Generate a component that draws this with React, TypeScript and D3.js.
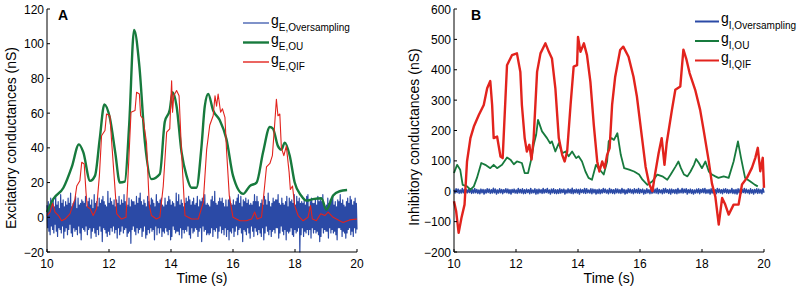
import React from "react";
import * as d3 from "d3";

const W = 799;
const H = 291;
const FONT = "'Liberation Sans', Arial, sans-serif";

const BLUE = "#2b4aa6";
const GREEN = "#177a3d";
const RED = "#e2231d";

// ---------- Panel A (excitatory) ----------
const tEOU = [10,10.2,10.53,10.8,11.03,11.17,11.39,11.55,11.7,11.85,12.03,12.2,12.35,12.51,12.65,12.81,12.98,13.16,13.37,13.64,13.8,13.96,14.05,14.18,14.34,14.5,14.66,14.82,14.98,15.09,15.2,15.36,15.57,15.79,16.0,16.33,16.54,16.76,16.97,17.19,17.29,17.45,17.56,17.67,17.83,17.99,18.2,18.37,18.58,18.85,19.01,19.23,19.44,19.68];
const gEOU = [3,10.5,17,29,42,37.5,21,24,45,65,57,37.5,20,20.5,53,108,87,43,22,25,55,62,72,64,37.5,24,17,17,40,64,71,61.5,56,45,24,13.5,18,20,37.5,52,51,41,39,43,35.5,20,12.5,9.6,10.5,11,4.4,12.5,15,15.7];

const tEQIF = [10,10.1,10.18,10.26,10.37,10.47,10.58,10.74,10.9,10.96,11.06,11.12,11.2,11.26,11.3,11.39,11.49,11.6,11.69,11.76,11.87,11.92,12.03,12.08,12.16,12.25,12.4,12.55,12.64,12.71,12.84,12.89,12.98,13.02,13.1,13.21,13.3,13.37,13.53,13.64,13.75,13.86,13.96,14.02,14.05,14.09,14.18,14.26,14.34,14.45,14.66,14.88,15.04,15.15,15.25,15.36,15.42,15.47,15.52,15.6,15.66,15.74,15.79,15.88,16.0,16.22,16.43,16.6,16.7,16.78,16.92,17.02,17.08,17.19,17.27,17.35,17.4,17.45,17.51,17.56,17.64,17.72,17.81,17.85,17.92,17.99,18.1,18.26,18.42,18.5,18.56,18.69,18.83,18.96,19.07,19.23,19.44,19.55,19.76,20];
const gEQIF = [1,3,8,3,1,-2,-1,2,10.5,18,21,31.7,30.7,14,6,5,1,5,24,47,50,59.5,58.5,45,25,2,-1,0,33.6,60.5,61.5,72,71,58.5,56.6,43,6.7,1,-1,0,18,49,51,78.7,60.5,70,73,70,37.5,1,-1,-1,8.6,39,53,58.5,70,64,71,60.5,62.5,57.6,39,12.5,0,-2,-2,-1,3,-1,0,18,29,31,35.5,55,68,58.5,59.5,40,35.5,41,26,16,18,6.7,1,-2,0,6.7,-1,-2,2,1,3,0,-2,-3,-1.5,-1];

// evenly sampled from 10 s to 20 s
const gEOver = [
  7,-6,9,-8,5,-10,11,-5,8,-7,
  10,-9,6,-4,12,-8,7,-11,9,-6,
  5,-7,13,-9,8,-5,10,-12,6,-8,
  9,-6,7,-10,11,-7,8,-4,14,-9,
  6,-11,8,-6,9,-8,12,-7,5,-10,
  11,-5,7,-9,8,-13,10,-6,9,-7,
  8,-8,12,-5,6,-10,9,-7,11,-6,
  7,-12,10,-8,5,-6,13,-9,8,-11,
  9,-7,6,-10,11,-5,8,-8,10,-14,
  12,-6,9,-7,7,-9,6,-11,15,-8,
  8,-10,11,-6,9,-8,7,-5,10,-9,
  6,-7,10,-12,8,-6,12,-10,7,-8,
  10,-5,8,-9,13,-7,9,-6,6,-11,
  7,-9,11,-8,6,-15,10,-7,9,-5,
  9,-8,7,-10,12,-6,8,-9,11,-7,
  14,-6,9,-11,7,-8,10,-5,8,-12,
  6,-10,12,-7,9,-9,7,-6,11,-8,
  10,-7,8,-13,6,-5,13,-10,9,-6,
  8,-9,10,-6,11,-11,7,-8,6,-9,
  11,-6,7,-8,9,-10,12,-7,10,-13,
  7,-11,9,-5,8,-7,6,-9,14,-8,
  9,-8,13,-10,7,-6,10,-12,8,-7,
  6,-9,8,-7,11,-8,9,-5,12,-10,
  10,-12,7,-6,9,-9,11,-8,7,-6,
  8,-7,12,-11,6,-8,10,-6,9,-14,
  11,-5,9,-8,13,-7,7,-10,8,-9,
  7,-10,6,-9,10,-6,12,-11,9,-7,
  15,-8,8,-6,7,-12,9,-8,11,-5,
  9,-9,11,-7,8,-10,6,-6,10,-11,
  6,-7,10,-13,12,-8,8,-9,7,-6,
  10,-11,7,-8,9,-5,11,-10,13,-7,
  8,-6,12,-9,6,-14,10,-7,9,-8,
  11,-10,8,-6,10,-9,7,-12,8,-5,
  7,-8,9,-11,13,-6,9,-8,12,-10,
  9,-7,6,-9,8,-11,10,-6,7,-13,
  12,-9,10,-5,7,-8,14,-10,9,-7,
  6,-11,8,-8,11,-7,9,-9,10,-6,
  10,-6,13,-12,8,-9,7,-5,11,-8,
  8,-10,7,-7,9,-13,12,-8,6,-9,
  11,-8,9,-6,10,-10,8,-11,13,-7,
  7,-9,12,-8,9,-6,11,-20,8,-10,
  9,-6,8,-11,10,-8,7,-9,12,-7,
  13,-10,6,-7,9,-12,11,-6,8,-9,
  8,-7,10,-9,7,-8,12,-10,9,-14,
  10,-11,9,-6,13,-9,8,-7,6,-8,
  7,-8,11,-12,8,-6,10,-9,11,-7,
  12,-9,7,-8,9,-10,6,-13,10,-6,
  9,-6,13,-7,8,-11,10,-8,7,-9,
  6,-12,9,-9,11,-7,8,-6,12,-10,
  10,-8,7,-11,9,-6,11,-9,8,-7
];

// ---------- Panel B (inhibitory) ----------
const tIOU = [10,10.1,10.2,10.28,10.42,10.53,10.64,10.74,10.88,11.01,11.17,11.28,11.39,11.55,11.71,11.82,11.93,12.03,12.19,12.28,12.39,12.5,12.57,12.65,12.71,12.84,13.0,13.1,13.16,13.27,13.38,13.49,13.6,13.7,13.81,13.94,14.02,14.13,14.24,14.34,14.45,14.58,14.66,14.75,14.83,14.94,14.99,15.08,15.16,15.27,15.38,15.49,15.65,15.81,15.97,16.08,16.24,16.4,16.56,16.72,16.88,16.99,17.15,17.24,17.32,17.42,17.53,17.63,17.74,17.81,17.9,18.0,18.11,18.22,18.32,18.43,18.53,18.7,18.86,19.02,19.16,19.26,19.39,19.55,19.71,19.8];
const gIOU = [60,87,71,21,16,5,16,44,93,87,76,87,76,87,111,104,89,98,93,60,60,109,153,186,235,197,175,158,164,131,158,125,131,115,131,109,115,98,65,44,38,87,76,65,55,98,164,175,169,191,120,76,71,65,55,38,21,33,55,49,38,55,82,98,76,55,49,65,87,106,93,76,98,65,55,49,44,49,44,98,164,109,44,33,21,16];

const tIQIF = [10,10.07,10.15,10.24,10.34,10.42,10.53,10.64,10.8,10.96,11.07,11.17,11.23,11.28,11.39,11.5,11.57,11.66,11.71,11.87,12.03,12.14,12.19,12.28,12.35,12.43,12.5,12.57,12.68,12.79,12.95,13.06,13.16,13.27,13.38,13.49,13.57,13.65,13.76,13.86,13.97,14.0,14.08,14.19,14.29,14.4,14.51,14.62,14.69,14.78,14.86,14.94,15.02,15.1,15.2,15.36,15.46,15.63,15.79,15.9,16.06,16.18,16.29,16.4,16.49,16.6,16.7,16.79,16.86,17.03,17.14,17.3,17.4,17.5,17.6,17.78,17.94,18.05,18.21,18.32,18.43,18.54,18.65,18.75,18.86,19.02,19.18,19.29,19.45,19.61,19.72,19.8,19.88,19.96,20];
const gIQIF = [-33,-66,-137,-88,-44,98,175,213,251,284,339,363,284,175,180,114,109,306,415,448,454,393,284,175,131,153,104,175,393,454,487,459,437,339,175,120,98,131,284,410,415,508,459,487,448,360,218,98,65,98,76,120,142,284,377,465,476,443,377,312,180,81,26,0,59,125,175,87,158,268,334,345,466,433,389,334,268,203,104,26,-18,-110,-22,-44,-77,-44,-44,22,44,77,110,143,66,110,11];

const gIOver = [
  5,-6,8,-4,7,-7,4,-6,9,-5,
  6,-8,5,-5,7,-4,8,-7,5,-6,
  9,-5,6,-7,4,-8,7,-5,6,-9,
  5,-6,8,-4,7,-7,5,-6,10,-5,
  7,-9,4,-6,8,-5,6,-8,5,-4,
  8,-5,7,-7,5,-9,6,-4,7,-6,
  4,-7,9,-5,6,-6,8,-8,5,-7,
  7,-4,5,-8,9,-6,4,-5,8,-9,
  6,-8,7,-5,5,-7,9,-6,6,-4,
  9,-6,4,-9,7,-5,8,-7,5,-8,
  5,-7,8,-6,6,-4,7,-9,4,-6,
  8,-5,6,-7,10,-8,5,-5,7,-6,
  6,-9,7,-4,5,-6,9,-7,8,-5,
  4,-6,8,-8,7,-5,6,-9,5,-7,
  7,-8,5,-6,9,-4,7,-6,4,-8,
  9,-5,6,-7,5,-8,8,-5,7,-6,
  5,-7,9,-5,6,-9,4,-7,8,-4,
  7,-6,5,-8,8,-5,6,-6,9,-7,
  6,-4,7,-9,4,-7,8,-5,5,-8,
  8,-7,6,-5,7,-6,10,-8,6,-5,
  4,-8,8,-6,9,-4,5,-7,7,-9,
  7,-5,5,-7,6,-8,9,-6,4,-5,
  9,-6,7,-4,8,-9,5,-5,7,-7,
  5,-9,4,-6,7,-5,8,-8,6,-4,
  8,-5,9,-7,5,-6,6,-9,8,-6,
  6,-7,5,-8,9,-4,7,-6,5,-8,
  7,-4,8,-6,6,-7,4,-5,9,-7,
  5,-8,6,-9,8,-5,7,-7,6,-4,
  9,-6,7,-5,4,-8,8,-6,5,-9,
  6,-5,8,-7,7,-6,5,-8,9,-5
];

const xTicks = [10, 12, 14, 16, 18, 20];
const yTicksA = [-20, 0, 20, 40, 60, 80, 100, 120];
const yTicksB = [-200, -100, 0, 100, 200, 300, 400, 500, 600];

type Series = { t: number[]; v: number[]; color: string; width: number; smooth?: boolean };
type LegendItem = { sub: string; color: string; width: number };

function evenTimes(n: number): number[] {
  return d3.range(n).map((i) => 10 + (10 * i) / (n - 1));
}

function Panel(props: {
  x0: number; x1: number; yTop: number; yBot: number;
  yDomain: [number, number]; yTicks: number[];
  yLabel: string; yLabelX: number; yLabelY: number;
  letter: string; letterX: number;
  series: Series[]; legend: LegendItem[];
  legX0: number; legX1: number; legYs: number[]; base: string;
}) {
  const x = d3.scaleLinear().domain([10, 20]).range([props.x0, props.x1]);
  const y = d3.scaleLinear().domain(props.yDomain).range([props.yBot, props.yTop]);
  const fmt = (v: number) => (v < 0 ? "\u2212" + Math.abs(v) : String(v));
  return (
    <g>
      {props.series.map((s, i) => {
        const line = d3.line<[number, number]>()
          .x((d) => x(d[0])).y((d) => y(d[1]))
          .curve(s.smooth ? d3.curveMonotoneX : d3.curveLinear);
        return (
          <path key={i} d={line(s.t.map((t, j) => [t, s.v[j]]) as [number, number][]) || ""}
            fill="none" stroke={s.color} strokeWidth={s.width} strokeLinejoin="round" />
        );
      })}
      <line x1={props.x0} x2={props.x0} y1={props.yTop} y2={props.yBot} stroke="#000" strokeWidth={1} />
      <line x1={props.x0} x2={props.x1} y1={props.yBot} y2={props.yBot} stroke="#000" strokeWidth={1} />
      {props.yTicks.map((v) => (
        <g key={"y" + v}>
          <line x1={props.x0} x2={props.x0 + 3} y1={y(v)} y2={y(v)} stroke="#000" strokeWidth={1} />
          <text x={props.x0 - 3} y={y(v) + 4.5} textAnchor="end" fontSize={12} fontFamily={FONT}>{fmt(v)}</text>
        </g>
      ))}
      {xTicks.map((v) => (
        <g key={"x" + v}>
          <line x1={x(v)} x2={x(v)} y1={props.yBot} y2={props.yBot - 3} stroke="#000" strokeWidth={1} />
          <text x={x(v)} y={268} textAnchor="middle" fontSize={12} fontFamily={FONT}>{v}</text>
        </g>
      ))}
      <text x={(props.x0 + props.x1) / 2} y={283} textAnchor="middle" fontSize={14} fontFamily={FONT}>Time (s)</text>
      <text transform={`translate(${props.yLabelX},${props.yLabelY}) rotate(-90)`} textAnchor="middle" fontSize={14} fontFamily={FONT}>{props.yLabel}</text>
      <text x={props.letterX} y={20} fontSize={14} fontWeight="bold" fontFamily={FONT}>{props.letter}</text>
      {props.legend.map((l, i) => (
        <g key={"l" + i}>
          <line x1={props.legX0} x2={props.legX1} y1={props.legYs[i]} y2={props.legYs[i]} stroke={l.color} strokeWidth={l.width} />
          <text x={props.legX1 + 2} y={props.legYs[i] + 1.5} fontFamily={FONT} fontSize={14}>
            {props.base}
            <tspan fontSize={10} dy={6}>{l.sub}</tspan>
          </text>
        </g>
      ))}
    </g>
  );
}

export default function App() {
  const seriesA: Series[] = [
    { t: evenTimes(gEOver.length), v: gEOver, color: BLUE, width: 1.2 },
    { t: tEOU, v: gEOU, color: GREEN, width: 2.4, smooth: true },
    { t: tEQIF, v: gEQIF, color: RED, width: 1.1 },
  ];
  const seriesB: Series[] = [
    { t: evenTimes(gIOver.length), v: gIOver, color: BLUE, width: 1.5 },
    { t: tIOU, v: gIOU, color: GREEN, width: 1.8 },
    { t: tIQIF, v: gIQIF, color: RED, width: 2.4 },
  ];
  return (
    <svg width={W} height={H} style={{ position: "fixed", left: 0, top: 0, background: "#fff" }}>
      <rect width={W} height={H} fill="#fff" />
      <Panel x0={47} x1={357} yTop={9} yBot={252} yDomain={[-20, 120]} yTicks={yTicksA}
        yLabel="Excitatory conductances (nS)" yLabelX={16} yLabelY={138}
        letter="A" letterX={58} series={seriesA}
        legend={[
          { sub: "E,Oversampling", color: BLUE, width: 1.2 },
          { sub: "E,OU", color: GREEN, width: 2.4 },
          { sub: "E,QIF", color: RED, width: 1.4 },
        ]}
        legX0={243} legX1={269} legYs={[23, 42.5, 62]} base="g" />
      <Panel x0={454} x1={764} yTop={9} yBot={252} yDomain={[-200, 600]} yTicks={yTicksB}
        yLabel="Inhibitory conductances (nS)" yLabelX={419} yLabelY={137}
        letter="B" letterX={471} series={seriesB}
        legend={[
          { sub: "I,Oversampling", color: BLUE, width: 2 },
          { sub: "I,OU", color: GREEN, width: 2 },
          { sub: "I,QIF", color: RED, width: 2 },
        ]}
        legX0={695} legX1={719} legYs={[21.5, 41, 60.5]} base="g" />
    </svg>
  );
}
